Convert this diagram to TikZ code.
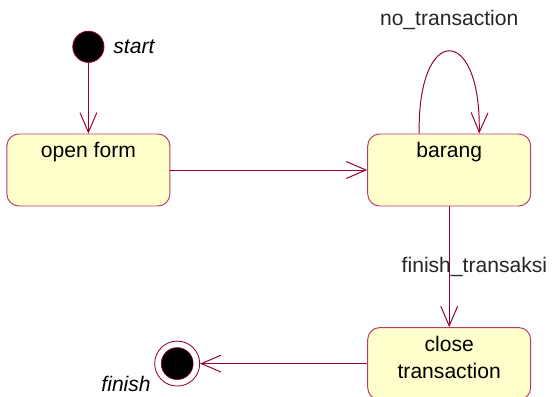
\documentclass[tikz,border=0pt]{standalone}
\usepackage{fontspec}
\setmainfont{Liberation Sans}
\usepackage{xcolor}
\usepackage{tikz}
\usetikzlibrary{arrows.meta}

\definecolor{umlline}{RGB}{150,0,50}
\definecolor{umlbox}{RGB}{185,60,105}
\definecolor{umlfill}{RGB}{255,255,204}

\begin{document}
\begin{tikzpicture}[scale = 1,
  font = \fontsize{15}{19}\selectfont,
  statebox/.style = {draw = umlbox,line width = 0.7pt,fill = umlfill,rounded corners = 0.3cm,
    minimum width = 4.075cm,minimum height = 1.8cm},
  trans/.style = {-{Straight Barb[length=14pt,width=12pt]},draw = umlline,line width = 0.7pt}]
\useasboundingbox (0,0) rectangle (13.8,9.9);

\node[draw = umlline,fill = black,line width = 0.6pt,circle,minimum size = 0.78cm,inner sep = 0pt,
  label = {[font = \fontsize{15}{19}\selectfont\itshape,label distance = 0.1cm]right:start}] at(2.21,8.73) (init) {};


\node[statebox,label = {[anchor = north,yshift = -0.1cm]north:open form}] at(2.21,5.65) (open) {};
\node[statebox,label = {[anchor = north,yshift = -0.1cm]north:barang}] at(11.23,5.65) (barang) {};
\node[statebox,label = {[anchor = north,yshift = -0.1cm,align = center]north:close\\transaction}] at(11.23,0.81) (close) {};


\node[draw = umlline,fill = white,line width = 0.6pt,circle,minimum size = 1.125cm,inner sep = 0pt,
  path picture = {\filldraw[black,draw = umlline,line width = 0.4pt] (path picture bounding box.center) circle (0.4cm);},
  label = {[font = \fontsize{15}{19}\selectfont\itshape]200:finish}] at(4.43,0.81) (final) {};


\draw [trans] (init.south) -- (open.north);
\draw [trans] (open.east) -- (barang.west);


\draw [trans] ([xshift = -0.75cm]barang.north) .. controls +(-0.05,2.75) and +(0.05,2.75) .. node[pos = 0.5,above = 0.4cm,text = black!85]{no\_transaction} ([xshift = 0.75cm]barang.north);


\draw [trans] (barang.south) -- node[midway,xshift = 0.63cm,text = black!85]{finish\_transaksi} (close.north);
\draw [trans] (close.west) -- (final.east);
\end{tikzpicture}
\end{document}
